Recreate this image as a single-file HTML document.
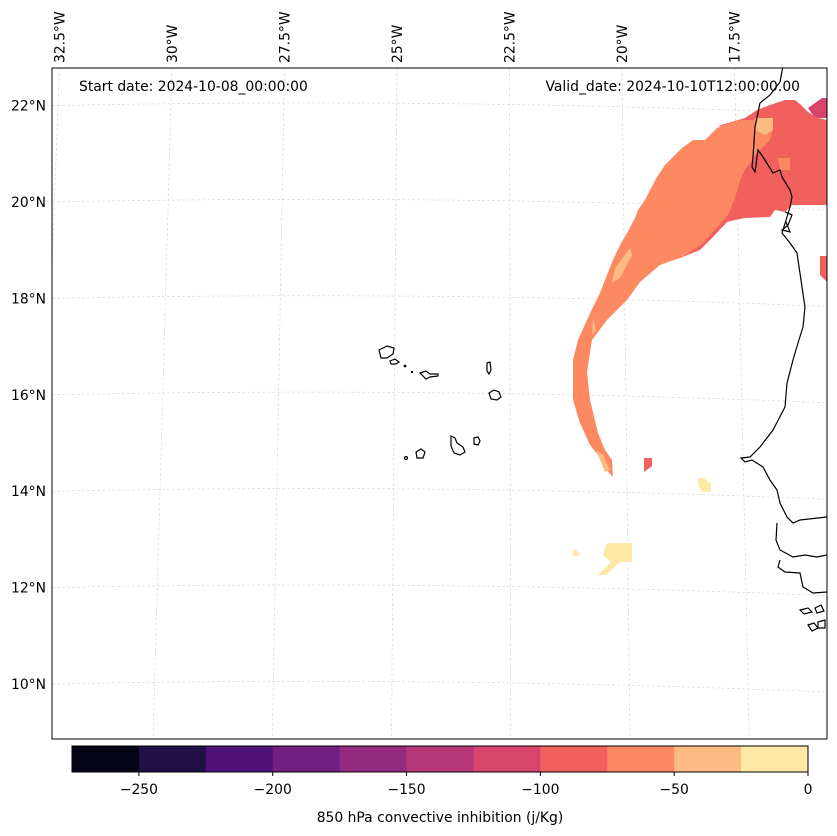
<!DOCTYPE html>
<html><head><meta charset="utf-8"><style>
body{margin:0;background:#fff;}
svg{display:block;font-family:"DejaVu Sans","Liberation Sans",sans-serif;}
</style></head><body>
<svg id="chart" width="837" height="836" viewBox="0 0 837 836" xmlns="http://www.w3.org/2000/svg">
<defs><clipPath id="mapclip"><rect x="52" y="68" width="775" height="671"/></clipPath></defs>
<rect width="837" height="836" fill="#fff"/>
<g id="grid" stroke="#d9d9d9" stroke-width="0.7" stroke-dasharray="3,2" fill="none" clip-path="url(#mapclip)"></g>
<g id="fill" clip-path="url(#mapclip)">
<polygon fill="#d8456c" points="808,108 822,98 827,98 827,118 815,118"/>
<polygon fill="#f1605d" points="718,126 745,118 757,110 770,105 785,100 795,100 800,104 808,112 818,118 827,120 827,205 792,205 785,212 775,210 770,217 745,218 735,220 727,222 712,238 700,250 680,258 690,240 715,212 735,180 755,150 765,130"/>
<polygon fill="#f1605d" points="820,256 827,256 827,282 820,275"/>
<polygon fill="#fc8961" points="717,128 727,124 740,120 753,120 765,118 773,128 770,140 755,155 745,170 740,180 735,198 728,215 715,230 703,243 683,257 668,262 660,265 640,282 627,300 607,320 592,340 587,372 590,400 598,433 605,450 612,460 613,477 605,468 598,455 590,445 580,423 573,400 573,360 578,340 587,320 593,307 600,293 605,280 613,260 620,245 627,233 635,218 638,210 645,200 650,190 657,177 665,165 672,158 682,148 693,140 705,140"/>
<polygon fill="#febb81" points="630,248 632,255 620,278 612,283 615,268"/>
<polygon fill="#febb81" points="593,318 596,330 592,335"/>
<polygon fill="#febb81" points="596,450 603,455 610,470 605,472"/>
<polygon fill="#febb81" points="755,118 773,118 773,130 765,135 755,130"/>
<polygon fill="#f1605d" points="644,458 652,458 652,466 644,472"/>
<polygon fill="#fc8961" points="778,158 790,158 790,170 780,170"/>
<polygon fill="#fde8a5" points="698,478 704,478 711,484 711,492 703,492 698,486"/>
<polygon fill="#fde8a5" points="607,543 632,543 632,562 620,562 606,575 598,575 611,562 603,555"/>
<polygon fill="#fde8a5" points="573,549 577,551 580,556 573,556"/>
</g>
<g stroke="#000" stroke-width="1.2" fill="none" clip-path="url(#mapclip)">
<polyline points="783,66 780,82 770,95 760,103 755,127 753,157 752,167 755,172 758,150 763,157 773,173 780,170 782,177 790,190 792,197 790,207 787,217 782,233 790,243 797,253 802,287 805,307 803,327 798,343 793,360 787,383 785,407 773,430 760,447 750,457 741,458 745,462 752,460 763,467 770,480 777,490 780,503 787,517 793,523 800,520 827,517"/>
<polyline points="785,212 792,215 788,225 782,230 790,232 786,222"/>
<polyline points="777,523 776,540 780,550 793,557 805,555 817,557 827,555"/>
<polyline points="780,560 778,567 785,572 800,573 803,587 813,593 827,592"/>
<path d="M800 610 l8 -2 l4 4 l-8 2 z M815 608 l6 -3 l3 6 l-7 2 z M808 625 l6 -2 l4 5 l-6 3 z M818 622 l7 -2 l0 8 l-7 0 z"/>
</g>
<g stroke="#000" stroke-width="1.2" fill="none">
<path d="M379 350 l8 -4 l7 2 l-1 6 l-6 4 l-6 0 z"/>
<path d="M390 361 l5 -2 l4 3 l-3 2 l-5 0 z"/>
<circle cx="405" cy="366" r="0.8"/><circle cx="412" cy="372" r="0.6"/>
<path d="M420 373 l6 -2 l4 3 l8 0 l0 2 l-8 1 l-4 2 z"/>
<path d="M487 363 l3 -1 l1 8 l-2 4 l-2 -3 z"/>
<path d="M489 393 l5 -3 l5 2 l2 5 l-4 3 l-6 -1 z"/>
<path d="M451 436 l4 2 l2 5 l6 4 l2 5 l-5 3 l-6 -2 l-3 -7 z"/>
<path d="M474 438 l4 -1 l2 4 l-2 4 l-4 -1 z"/>
<path d="M416 452 l5 -3 l4 3 l-2 6 l-6 0 z"/>
<circle cx="406" cy="458" r="1.5"/>
</g>
<rect x="52" y="68" width="775" height="671" fill="none" stroke="#000" stroke-width="1"/>
<g id="latlabels" font-size="13.9" fill="#000" text-anchor="end"></g>
<g id="lonlabels" font-size="13.9" fill="#000"></g>
<text x="79" y="91" font-size="13.9">Start date: 2024-10-08_00:00:00</text>
<text x="800" y="91" font-size="13.9" text-anchor="end">Valid_date: 2024-10-10T12:00:00.00</text>
<g id="cbar"></g>
<text x="440" y="822" font-size="13.9" text-anchor="middle">850 hPa convective inhibition (j/Kg)</text>
</svg>
<script>
const levels = [-275,-250,-225,-200,-175,-150,-125,-100,-75,-50,-25,0];
const levelColors = ["#050416","#1f1146","#4f127b","#721f81","#932b80","#b73779","#d8456c","#f1605d","#fc8961","#febb81","#fde8a5"];
const tickValues = [-250,-200,-150,-100,-50,0];
const latValues = [22,20,18,16,14,12,10];
const lonValues = [32.5,30,27.5,25,22.5,20,17.5];
const NS = "http://www.w3.org/2000/svg";
function mk(t, a, p){const e=document.createElementNS(NS,t);for(const k in a)e.setAttribute(k,a[k]);p.appendChild(e);return e;}
function latY(lat){return 202 + (20-lat)*48.2;}
function lonTopX(lon){return 172 - (lon-30)*45.0;}
function lonBotX(lon){return 153 - (lon-30)*47.7;}
const grid=document.getElementById('grid');
latValues.forEach(v=>{const y=latY(v);
 const p=mk('path',{d:`M52 ${y} Q440 ${y-8} 827 ${y+8}`},grid);
 
 
});
lonValues.forEach(v=>{const xt=lonTopX(v), xb=lonBotX(v);
 const p=mk('path',{d:`M${xt} 68 L${xb} 739`},grid);
 
 
});
const ll=document.getElementById('latlabels');
latValues.forEach(v=>{const t=mk('text',{x:46,y:latY(v)+5},ll);t.textContent=v+'°N';
 
 
});
const lo=document.getElementById('lonlabels');
lonValues.forEach(v=>{const x=lonTopX(v)+5;const t=mk('text',{x:0,y:0,transform:`translate(${x},63) rotate(-90)`},lo);t.textContent=v+'°W';
 
 
});
const cb=document.getElementById('cbar');
const cx0=72,cx1=808,cy=746,ch=26;
function cbX(v){return cx0+(v-levels[0])/(levels[levels.length-1]-levels[0])*(cx1-cx0);}
for(let i=0;i<levelColors.length;i++){
 const r=mk('rect',{x:cbX(levels[i]),y:cy,width:cbX(levels[i+1])-cbX(levels[i])+0.5,height:ch,fill:levelColors[i]},cb);
 
 
}
mk('rect',{x:cx0,y:cy,width:cx1-cx0,height:ch,fill:'none',stroke:'#000','stroke-width':1},cb);
tickValues.forEach(v=>{const x=cbX(v);
 mk('line',{x1:x,x2:x,y1:cy+ch,y2:cy+ch+4,stroke:'#000'},cb);
 const t=mk('text',{x:x,y:cy+ch+22,'font-size':13.9,'text-anchor':'middle'},cb);
 t.textContent=v<0?'\u2212'+Math.abs(v):String(v);
 
 
});
</script>
</body></html>
